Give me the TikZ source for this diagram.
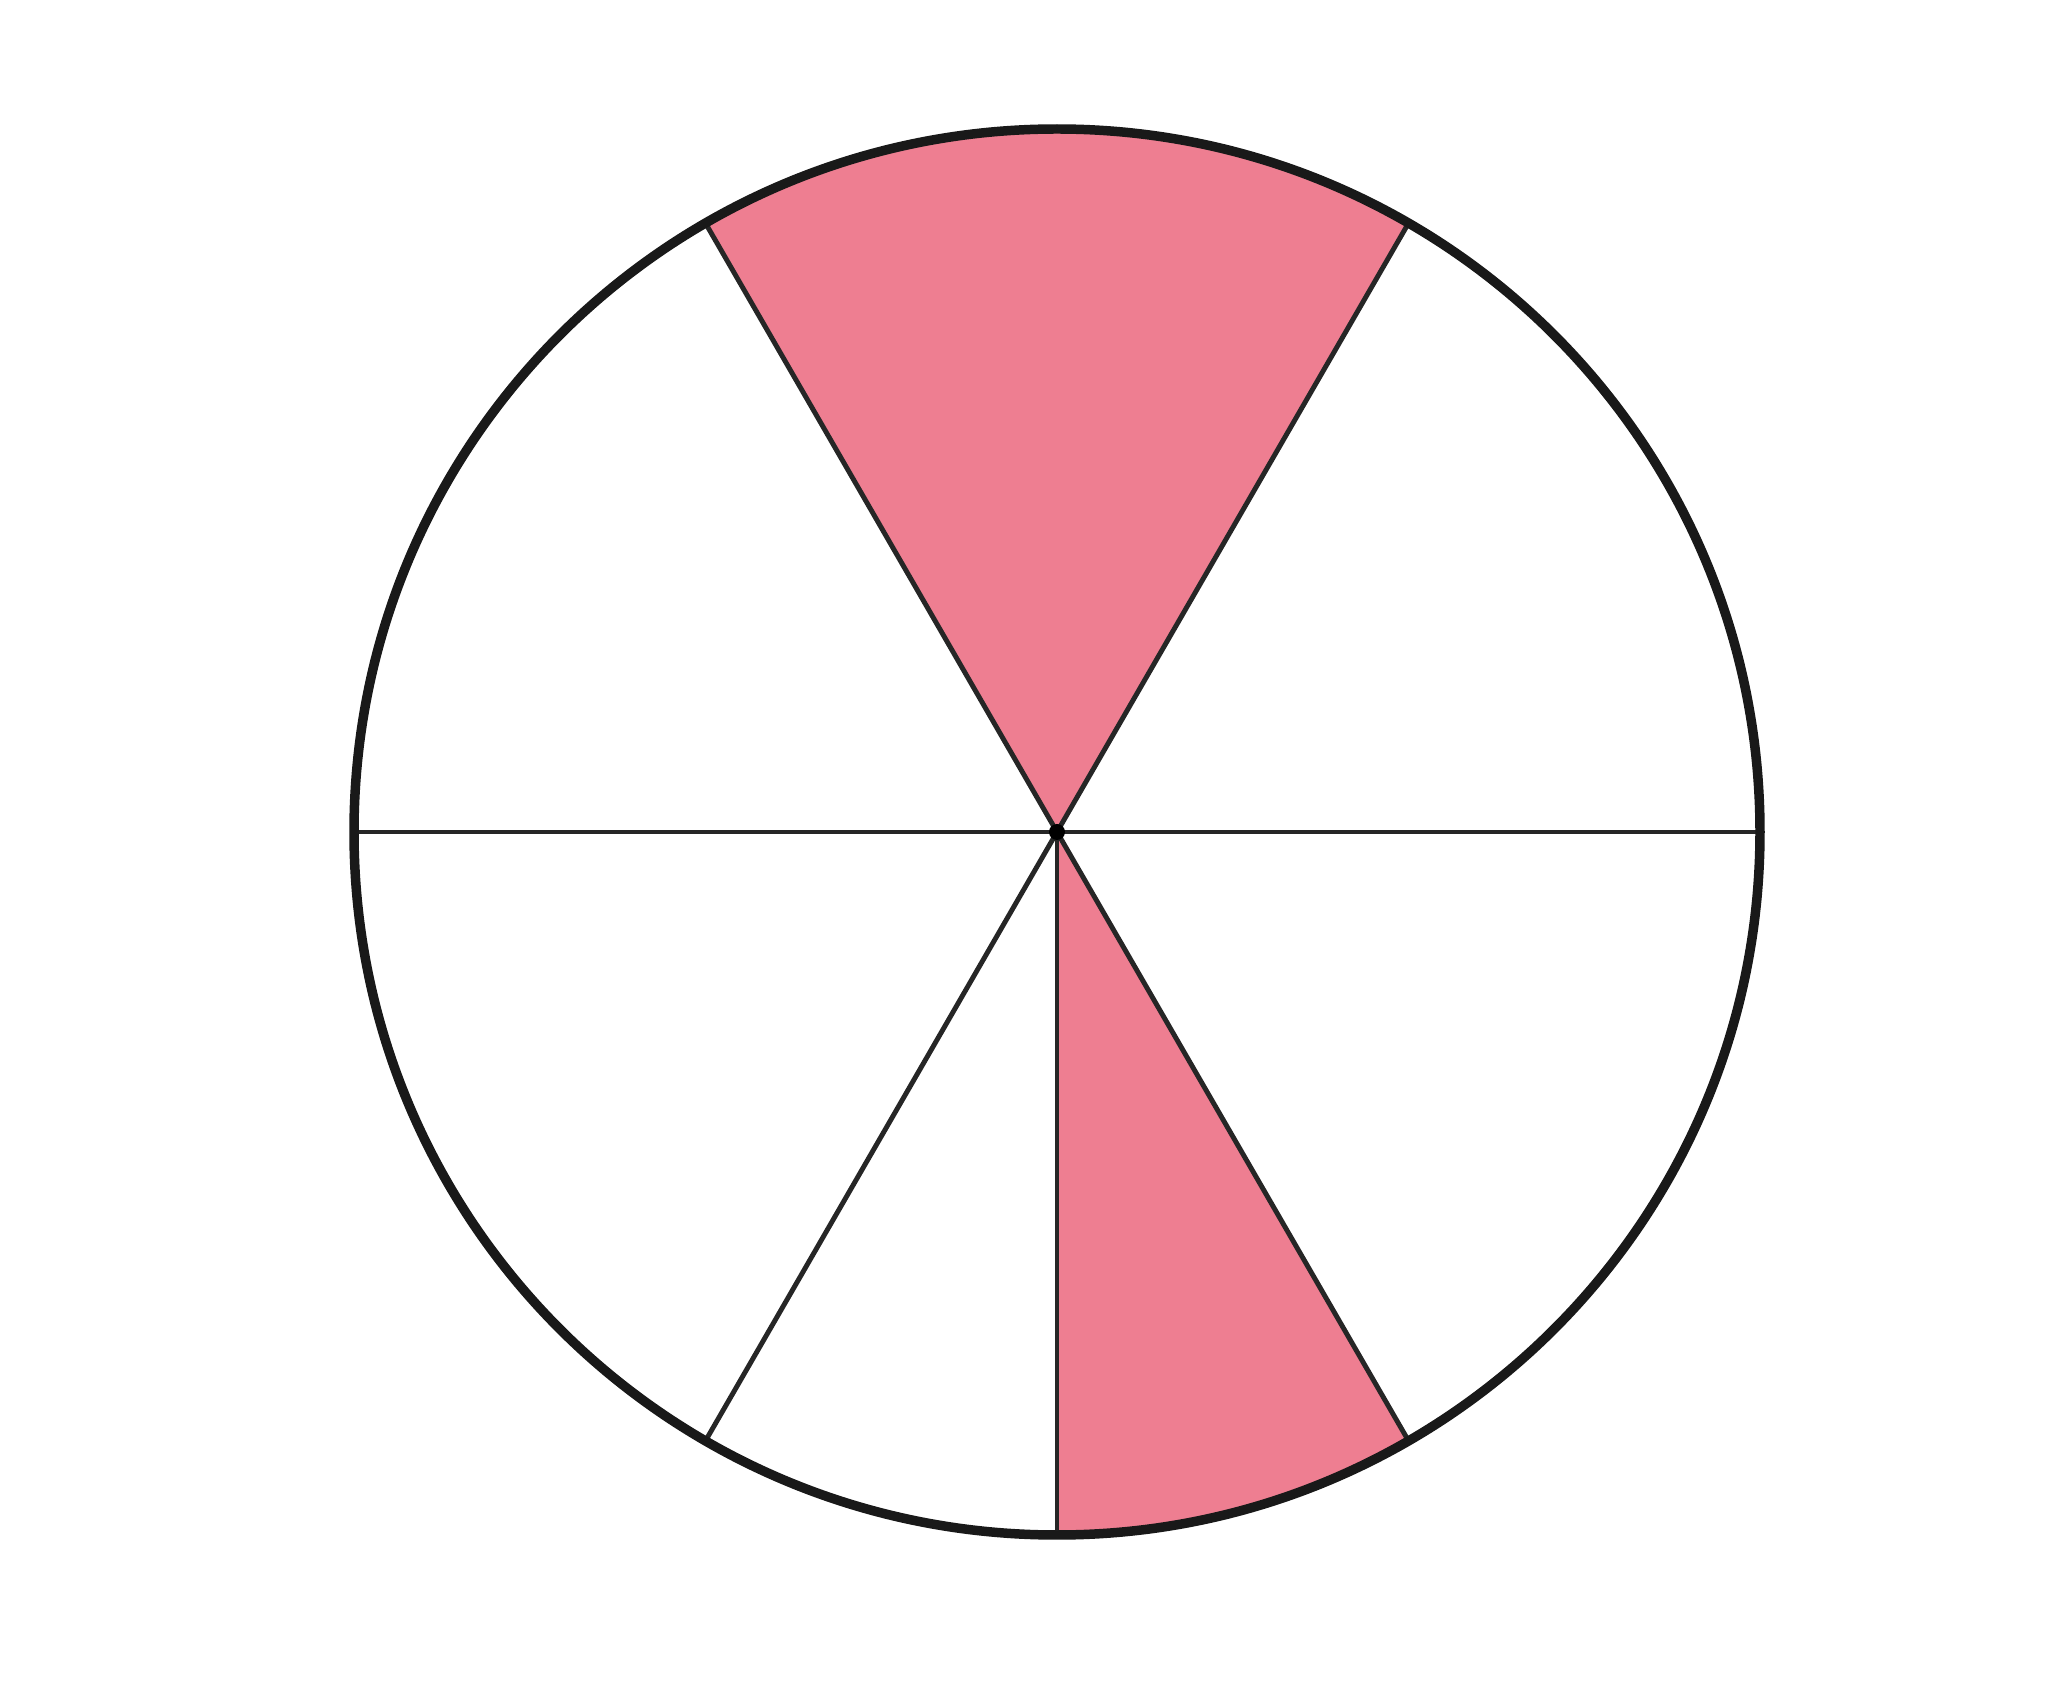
\documentclass[tikz,border=0pt]{standalone}
\usepackage{xcolor}
\usepackage{tikz}
\definecolor{sectorpink}{RGB}{238,126,145}

\begin{document}
\begin{tikzpicture}
  \useasboundingbox (0,0) rectangle (20.71,16.96);
  \coordinate (o) at (10.57,8.64);
  % shaded sectors
  \fill[sectorpink] (o) -- ++(60:7.03) arc[start angle=60,end angle=120,radius=7.03] -- cycle;
  \fill[sectorpink] (o) -- ++(270:7.03) arc[start angle=270,end angle=300,radius=7.03] -- cycle;
  % spokes
  \foreach \a in {0,60,120,180,240,270,300}
    \draw[line width=1.4pt, black!85] (o) -- ++(\a:7.03);
  \draw[line width=2.7pt, black!90] (o) circle[radius=7.03];
  \fill (o) circle[radius=0.08];
\end{tikzpicture}
\end{document}
